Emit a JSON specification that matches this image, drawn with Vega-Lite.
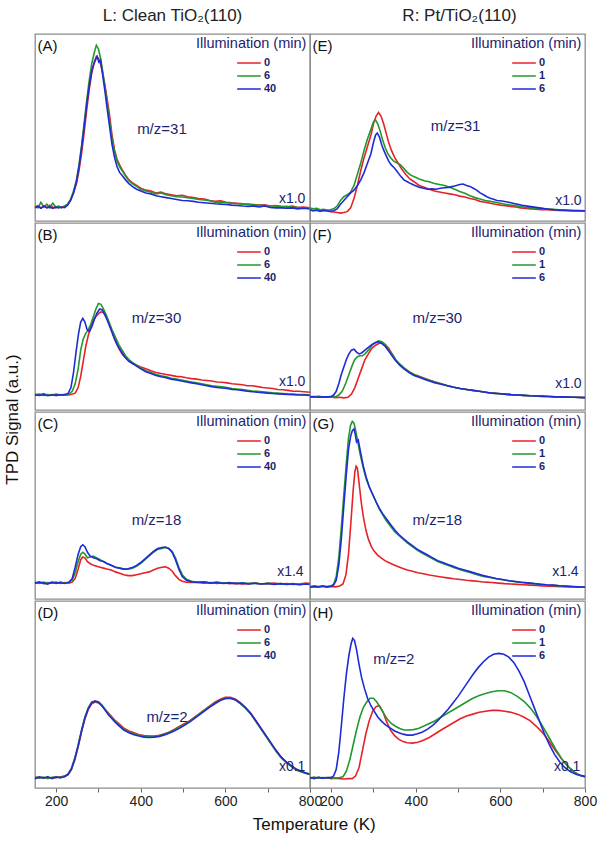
{
"$schema": "https://vega.github.io/schema/vega-lite/v6.json",
"background": "white",
"padding": {"left": 4, "top": 6, "right": 10, "bottom": 2},
"title": {"text": "TPD Signal (a.u.)", "orient": "left", "anchor": "middle", "fontSize": 17, "fontWeight": "normal", "color": "#111", "offset": 9},
"config": {
 "font": "Liberation Sans",
 "view": {"stroke": "#8c8c8c", "strokeWidth": 1.3},
 "line": {"strokeWidth": 1.6},
 "text": {"baseline": "middle"},
 "legend": {"orient": "top-right", "offset": 3, "padding": 0, "titleFontSize": 14.5, "titleFontWeight": "normal", "titleColor": "#1c2470", "labelFontSize": 11, "labelColor": "#1c2470", "labelFontWeight": "bold", "symbolType": "stroke", "symbolSize": 560, "symbolStrokeWidth": 2, "symbolOffset": 40, "labelOffset": 2, "rowPadding": 0, "clipHeight": 13, "titlePadding": 5, "titleLimit": 220},
 "axis": {"domain": false, "grid": false, "tickColor": "#666", "tickSize": 4, "labelFontSize": 14, "labelColor": "#222", "labelFlush": false, "labelOverlap": false, "labelPadding": 2}
},
"datasets": {
"A0": [{"t":150,"v":0.075},{"t":157,"v":0.082},{"t":164,"v":0.07},{"t":171,"v":0.08},{"t":178,"v":0.072},{"t":185,"v":0.084},{"t":192,"v":0.074},{"t":199,"v":0.07},{"t":206,"v":0.078},{"t":213,"v":0.072},{"t":220,"v":0.08},{"t":227,"v":0.088},{"t":234,"v":0.11},{"t":241,"v":0.15},{"t":248,"v":0.2},{"t":254,"v":0.27},{"t":260,"v":0.36},{"t":266,"v":0.47},{"t":272,"v":0.59},{"t":278,"v":0.7},{"t":284,"v":0.79},{"t":290,"v":0.85},{"t":295,"v":0.88},{"t":300,"v":0.87},{"t":305,"v":0.84},{"t":310,"v":0.79},{"t":315,"v":0.73},{"t":320,"v":0.66},{"t":326,"v":0.57},{"t":332,"v":0.46},{"t":338,"v":0.38},{"t":344,"v":0.33},{"t":350,"v":0.3},{"t":357,"v":0.27},{"t":364,"v":0.245},{"t":372,"v":0.22},{"t":380,"v":0.205},{"t":390,"v":0.19},{"t":400,"v":0.175},{"t":412,"v":0.165},{"t":424,"v":0.16},{"t":436,"v":0.15},{"t":448,"v":0.155},{"t":460,"v":0.145},{"t":472,"v":0.14},{"t":485,"v":0.135},{"t":498,"v":0.138},{"t":511,"v":0.13},{"t":524,"v":0.125},{"t":537,"v":0.12},{"t":550,"v":0.118},{"t":563,"v":0.11},{"t":576,"v":0.105},{"t":589,"v":0.108},{"t":602,"v":0.1},{"t":615,"v":0.097},{"t":628,"v":0.095},{"t":641,"v":0.092},{"t":654,"v":0.09},{"t":667,"v":0.088},{"t":680,"v":0.085},{"t":693,"v":0.087},{"t":706,"v":0.08},{"t":719,"v":0.082},{"t":732,"v":0.078},{"t":745,"v":0.075},{"t":758,"v":0.08},{"t":771,"v":0.072},{"t":784,"v":0.075},{"t":800,"v":0.07}],
"A6": [{"t":150,"v":0.08},{"t":157,"v":0.07},{"t":164,"v":0.1},{"t":171,"v":0.075},{"t":178,"v":0.09},{"t":185,"v":0.07},{"t":192,"v":0.095},{"t":199,"v":0.075},{"t":206,"v":0.08},{"t":213,"v":0.07},{"t":220,"v":0.078},{"t":227,"v":0.09},{"t":234,"v":0.115},{"t":241,"v":0.16},{"t":248,"v":0.22},{"t":254,"v":0.3},{"t":260,"v":0.4},{"t":266,"v":0.52},{"t":272,"v":0.64},{"t":278,"v":0.75},{"t":284,"v":0.84},{"t":290,"v":0.9},{"t":295,"v":0.94},{"t":300,"v":0.92},{"t":305,"v":0.87},{"t":310,"v":0.8},{"t":315,"v":0.72},{"t":320,"v":0.64},{"t":326,"v":0.54},{"t":332,"v":0.44},{"t":338,"v":0.37},{"t":344,"v":0.32},{"t":350,"v":0.29},{"t":357,"v":0.265},{"t":364,"v":0.24},{"t":372,"v":0.215},{"t":380,"v":0.2},{"t":390,"v":0.185},{"t":400,"v":0.17},{"t":412,"v":0.16},{"t":424,"v":0.155},{"t":436,"v":0.145},{"t":448,"v":0.15},{"t":460,"v":0.14},{"t":472,"v":0.135},{"t":485,"v":0.13},{"t":498,"v":0.128},{"t":511,"v":0.125},{"t":524,"v":0.12},{"t":537,"v":0.115},{"t":550,"v":0.112},{"t":563,"v":0.108},{"t":576,"v":0.1},{"t":589,"v":0.102},{"t":602,"v":0.098},{"t":615,"v":0.095},{"t":628,"v":0.092},{"t":641,"v":0.09},{"t":654,"v":0.088},{"t":667,"v":0.085},{"t":680,"v":0.085},{"t":693,"v":0.082},{"t":706,"v":0.08},{"t":719,"v":0.08},{"t":732,"v":0.076},{"t":745,"v":0.078},{"t":758,"v":0.074},{"t":771,"v":0.072},{"t":784,"v":0.07},{"t":800,"v":0.068}],
"A40": [{"t":150,"v":0.07},{"t":157,"v":0.078},{"t":164,"v":0.068},{"t":171,"v":0.08},{"t":178,"v":0.07},{"t":185,"v":0.075},{"t":192,"v":0.068},{"t":199,"v":0.075},{"t":206,"v":0.07},{"t":213,"v":0.075},{"t":220,"v":0.072},{"t":227,"v":0.085},{"t":234,"v":0.11},{"t":241,"v":0.15},{"t":248,"v":0.21},{"t":254,"v":0.29},{"t":260,"v":0.39},{"t":266,"v":0.5},{"t":272,"v":0.62},{"t":278,"v":0.72},{"t":284,"v":0.8},{"t":289,"v":0.84},{"t":293,"v":0.86},{"t":297,"v":0.88},{"t":301,"v":0.85},{"t":305,"v":0.86},{"t":310,"v":0.78},{"t":315,"v":0.7},{"t":320,"v":0.61},{"t":326,"v":0.51},{"t":332,"v":0.41},{"t":338,"v":0.34},{"t":344,"v":0.29},{"t":350,"v":0.26},{"t":357,"v":0.24},{"t":364,"v":0.22},{"t":372,"v":0.2},{"t":380,"v":0.185},{"t":390,"v":0.17},{"t":400,"v":0.16},{"t":412,"v":0.15},{"t":424,"v":0.145},{"t":436,"v":0.135},{"t":448,"v":0.13},{"t":460,"v":0.125},{"t":472,"v":0.12},{"t":485,"v":0.115},{"t":498,"v":0.11},{"t":511,"v":0.108},{"t":524,"v":0.105},{"t":537,"v":0.1},{"t":550,"v":0.098},{"t":563,"v":0.095},{"t":576,"v":0.092},{"t":589,"v":0.09},{"t":602,"v":0.088},{"t":615,"v":0.085},{"t":628,"v":0.083},{"t":641,"v":0.08},{"t":654,"v":0.078},{"t":667,"v":0.08},{"t":680,"v":0.075},{"t":693,"v":0.08},{"t":706,"v":0.072},{"t":719,"v":0.07},{"t":732,"v":0.07},{"t":745,"v":0.068},{"t":758,"v":0.07},{"t":771,"v":0.065},{"t":784,"v":0.068},{"t":800,"v":0.065}],
"E0": [{"t":150,"v":0.058},{"t":158,"v":0.055},{"t":166,"v":0.06},{"t":174,"v":0.052},{"t":182,"v":0.058},{"t":190,"v":0.055},{"t":198,"v":0.05},{"t":206,"v":0.048},{"t":214,"v":0.045},{"t":222,"v":0.042},{"t":230,"v":0.045},{"t":238,"v":0.05},{"t":246,"v":0.07},{"t":254,"v":0.12},{"t":262,"v":0.19},{"t":270,"v":0.27},{"t":278,"v":0.34},{"t":286,"v":0.4},{"t":294,"v":0.46},{"t":300,"v":0.52},{"t":306,"v":0.56},{"t":312,"v":0.58},{"t":318,"v":0.56},{"t":324,"v":0.52},{"t":330,"v":0.47},{"t":336,"v":0.42},{"t":342,"v":0.38},{"t":350,"v":0.34},{"t":358,"v":0.31},{"t":366,"v":0.28},{"t":376,"v":0.25},{"t":386,"v":0.225},{"t":396,"v":0.21},{"t":408,"v":0.19},{"t":420,"v":0.18},{"t":432,"v":0.17},{"t":444,"v":0.16},{"t":456,"v":0.155},{"t":468,"v":0.15},{"t":480,"v":0.145},{"t":492,"v":0.14},{"t":504,"v":0.133},{"t":516,"v":0.128},{"t":528,"v":0.12},{"t":540,"v":0.115},{"t":552,"v":0.105},{"t":564,"v":0.1},{"t":576,"v":0.095},{"t":588,"v":0.09},{"t":600,"v":0.085},{"t":612,"v":0.082},{"t":624,"v":0.078},{"t":636,"v":0.075},{"t":648,"v":0.07},{"t":660,"v":0.067},{"t":672,"v":0.065},{"t":684,"v":0.063},{"t":696,"v":0.06},{"t":710,"v":0.06},{"t":725,"v":0.058},{"t":740,"v":0.057},{"t":755,"v":0.056},{"t":770,"v":0.055},{"t":785,"v":0.055},{"t":800,"v":0.054}],
"E1": [{"t":150,"v":0.07},{"t":158,"v":0.065},{"t":166,"v":0.068},{"t":174,"v":0.06},{"t":182,"v":0.062},{"t":190,"v":0.058},{"t":198,"v":0.06},{"t":206,"v":0.065},{"t":214,"v":0.08},{"t":222,"v":0.11},{"t":230,"v":0.13},{"t":238,"v":0.14},{"t":246,"v":0.155},{"t":254,"v":0.19},{"t":262,"v":0.25},{"t":270,"v":0.31},{"t":278,"v":0.38},{"t":286,"v":0.44},{"t":294,"v":0.49},{"t":300,"v":0.53},{"t":305,"v":0.54},{"t":310,"v":0.52},{"t":316,"v":0.48},{"t":322,"v":0.43},{"t":328,"v":0.39},{"t":334,"v":0.36},{"t":340,"v":0.34},{"t":348,"v":0.32},{"t":356,"v":0.31},{"t":364,"v":0.3},{"t":372,"v":0.28},{"t":380,"v":0.26},{"t":388,"v":0.245},{"t":398,"v":0.235},{"t":408,"v":0.225},{"t":420,"v":0.215},{"t":432,"v":0.21},{"t":444,"v":0.2},{"t":456,"v":0.195},{"t":468,"v":0.19},{"t":480,"v":0.18},{"t":492,"v":0.17},{"t":504,"v":0.158},{"t":516,"v":0.148},{"t":528,"v":0.135},{"t":540,"v":0.125},{"t":552,"v":0.118},{"t":564,"v":0.11},{"t":576,"v":0.105},{"t":588,"v":0.1},{"t":600,"v":0.095},{"t":612,"v":0.09},{"t":624,"v":0.086},{"t":636,"v":0.082},{"t":648,"v":0.078},{"t":660,"v":0.072},{"t":672,"v":0.07},{"t":684,"v":0.068},{"t":696,"v":0.066},{"t":710,"v":0.064},{"t":725,"v":0.062},{"t":740,"v":0.06},{"t":755,"v":0.058},{"t":770,"v":0.057},{"t":785,"v":0.055},{"t":800,"v":0.054}],
"E6": [{"t":150,"v":0.06},{"t":158,"v":0.055},{"t":166,"v":0.058},{"t":174,"v":0.052},{"t":182,"v":0.056},{"t":190,"v":0.055},{"t":198,"v":0.052},{"t":206,"v":0.055},{"t":214,"v":0.065},{"t":222,"v":0.09},{"t":230,"v":0.11},{"t":238,"v":0.13},{"t":246,"v":0.15},{"t":254,"v":0.165},{"t":262,"v":0.19},{"t":270,"v":0.22},{"t":278,"v":0.26},{"t":286,"v":0.31},{"t":294,"v":0.36},{"t":300,"v":0.42},{"t":305,"v":0.46},{"t":309,"v":0.47},{"t":314,"v":0.45},{"t":319,"v":0.41},{"t":324,"v":0.38},{"t":330,"v":0.35},{"t":336,"v":0.32},{"t":342,"v":0.3},{"t":349,"v":0.285},{"t":356,"v":0.265},{"t":364,"v":0.24},{"t":372,"v":0.22},{"t":380,"v":0.21},{"t":388,"v":0.2},{"t":398,"v":0.19},{"t":408,"v":0.18},{"t":418,"v":0.175},{"t":428,"v":0.17},{"t":438,"v":0.172},{"t":448,"v":0.17},{"t":458,"v":0.175},{"t":468,"v":0.178},{"t":478,"v":0.18},{"t":488,"v":0.185},{"t":496,"v":0.19},{"t":504,"v":0.195},{"t":512,"v":0.198},{"t":520,"v":0.19},{"t":528,"v":0.185},{"t":536,"v":0.175},{"t":544,"v":0.165},{"t":552,"v":0.15},{"t":560,"v":0.14},{"t":568,"v":0.13},{"t":576,"v":0.122},{"t":584,"v":0.116},{"t":592,"v":0.11},{"t":600,"v":0.108},{"t":610,"v":0.104},{"t":620,"v":0.1},{"t":632,"v":0.094},{"t":644,"v":0.088},{"t":656,"v":0.082},{"t":668,"v":0.078},{"t":680,"v":0.074},{"t":692,"v":0.07},{"t":704,"v":0.066},{"t":716,"v":0.063},{"t":728,"v":0.06},{"t":740,"v":0.058},{"t":755,"v":0.057},{"t":770,"v":0.055},{"t":785,"v":0.056},{"t":800,"v":0.055}],
"B0": [{"t":150,"v":0.08},{"t":160,"v":0.085},{"t":170,"v":0.078},{"t":180,"v":0.082},{"t":190,"v":0.08},{"t":200,"v":0.085},{"t":210,"v":0.08},{"t":220,"v":0.082},{"t":230,"v":0.08},{"t":238,"v":0.085},{"t":245,"v":0.09},{"t":252,"v":0.12},{"t":258,"v":0.18},{"t":264,"v":0.26},{"t":270,"v":0.34},{"t":276,"v":0.4},{"t":282,"v":0.45},{"t":288,"v":0.48},{"t":294,"v":0.5},{"t":300,"v":0.515},{"t":306,"v":0.525},{"t":312,"v":0.52},{"t":318,"v":0.5},{"t":325,"v":0.46},{"t":332,"v":0.42},{"t":340,"v":0.37},{"t":348,"v":0.33},{"t":356,"v":0.3},{"t":364,"v":0.28},{"t":372,"v":0.26},{"t":380,"v":0.25},{"t":390,"v":0.24},{"t":400,"v":0.23},{"t":412,"v":0.22},{"t":424,"v":0.21},{"t":436,"v":0.2},{"t":448,"v":0.195},{"t":460,"v":0.19},{"t":472,"v":0.185},{"t":484,"v":0.18},{"t":496,"v":0.178},{"t":508,"v":0.172},{"t":520,"v":0.168},{"t":532,"v":0.165},{"t":544,"v":0.16},{"t":556,"v":0.158},{"t":568,"v":0.155},{"t":580,"v":0.15},{"t":592,"v":0.148},{"t":604,"v":0.145},{"t":616,"v":0.14},{"t":628,"v":0.138},{"t":640,"v":0.135},{"t":652,"v":0.13},{"t":664,"v":0.13},{"t":676,"v":0.125},{"t":688,"v":0.12},{"t":700,"v":0.118},{"t":712,"v":0.115},{"t":724,"v":0.11},{"t":736,"v":0.108},{"t":748,"v":0.105},{"t":760,"v":0.1},{"t":772,"v":0.1},{"t":786,"v":0.098},{"t":800,"v":0.095}],
"B6": [{"t":150,"v":0.085},{"t":160,"v":0.08},{"t":170,"v":0.088},{"t":180,"v":0.08},{"t":190,"v":0.082},{"t":200,"v":0.078},{"t":210,"v":0.082},{"t":220,"v":0.08},{"t":230,"v":0.085},{"t":238,"v":0.1},{"t":245,"v":0.14},{"t":252,"v":0.22},{"t":258,"v":0.32},{"t":264,"v":0.38},{"t":270,"v":0.41},{"t":276,"v":0.43},{"t":282,"v":0.46},{"t":288,"v":0.5},{"t":294,"v":0.54},{"t":300,"v":0.57},{"t":306,"v":0.565},{"t":312,"v":0.54},{"t":318,"v":0.51},{"t":325,"v":0.47},{"t":332,"v":0.43},{"t":340,"v":0.39},{"t":348,"v":0.35},{"t":356,"v":0.32},{"t":364,"v":0.29},{"t":372,"v":0.27},{"t":380,"v":0.255},{"t":390,"v":0.24},{"t":400,"v":0.225},{"t":412,"v":0.21},{"t":424,"v":0.2},{"t":436,"v":0.19},{"t":448,"v":0.183},{"t":460,"v":0.177},{"t":472,"v":0.17},{"t":484,"v":0.165},{"t":496,"v":0.16},{"t":508,"v":0.155},{"t":520,"v":0.15},{"t":532,"v":0.145},{"t":544,"v":0.14},{"t":556,"v":0.135},{"t":568,"v":0.13},{"t":580,"v":0.127},{"t":592,"v":0.124},{"t":604,"v":0.12},{"t":616,"v":0.115},{"t":628,"v":0.112},{"t":640,"v":0.11},{"t":652,"v":0.105},{"t":664,"v":0.102},{"t":676,"v":0.1},{"t":688,"v":0.098},{"t":700,"v":0.095},{"t":712,"v":0.092},{"t":724,"v":0.09},{"t":736,"v":0.088},{"t":748,"v":0.086},{"t":760,"v":0.085},{"t":772,"v":0.083},{"t":786,"v":0.082},{"t":800,"v":0.08}],
"B40": [{"t":150,"v":0.08},{"t":160,"v":0.078},{"t":170,"v":0.083},{"t":180,"v":0.076},{"t":190,"v":0.08},{"t":200,"v":0.078},{"t":210,"v":0.08},{"t":220,"v":0.082},{"t":228,"v":0.088},{"t":235,"v":0.12},{"t":241,"v":0.2},{"t":247,"v":0.31},{"t":253,"v":0.41},{"t":258,"v":0.47},{"t":263,"v":0.49},{"t":268,"v":0.47},{"t":273,"v":0.43},{"t":279,"v":0.42},{"t":285,"v":0.45},{"t":291,"v":0.49},{"t":297,"v":0.52},{"t":303,"v":0.54},{"t":309,"v":0.535},{"t":315,"v":0.51},{"t":321,"v":0.48},{"t":328,"v":0.44},{"t":336,"v":0.39},{"t":344,"v":0.35},{"t":352,"v":0.32},{"t":360,"v":0.29},{"t":370,"v":0.265},{"t":380,"v":0.25},{"t":390,"v":0.235},{"t":400,"v":0.22},{"t":412,"v":0.205},{"t":424,"v":0.195},{"t":436,"v":0.185},{"t":448,"v":0.178},{"t":460,"v":0.172},{"t":472,"v":0.165},{"t":484,"v":0.16},{"t":496,"v":0.155},{"t":508,"v":0.15},{"t":520,"v":0.145},{"t":532,"v":0.14},{"t":544,"v":0.135},{"t":556,"v":0.13},{"t":568,"v":0.125},{"t":580,"v":0.12},{"t":592,"v":0.118},{"t":604,"v":0.115},{"t":616,"v":0.11},{"t":628,"v":0.108},{"t":640,"v":0.105},{"t":652,"v":0.1},{"t":664,"v":0.098},{"t":676,"v":0.095},{"t":688,"v":0.093},{"t":700,"v":0.09},{"t":712,"v":0.088},{"t":724,"v":0.086},{"t":736,"v":0.085},{"t":748,"v":0.083},{"t":760,"v":0.082},{"t":772,"v":0.08},{"t":786,"v":0.08},{"t":800,"v":0.078}],
"F0": [{"t":150,"v":0.07},{"t":160,"v":0.068},{"t":170,"v":0.072},{"t":180,"v":0.07},{"t":190,"v":0.068},{"t":200,"v":0.07},{"t":210,"v":0.066},{"t":220,"v":0.068},{"t":230,"v":0.065},{"t":240,"v":0.068},{"t":248,"v":0.085},{"t":256,"v":0.12},{"t":264,"v":0.17},{"t":272,"v":0.22},{"t":280,"v":0.27},{"t":288,"v":0.3},{"t":296,"v":0.33},{"t":304,"v":0.345},{"t":312,"v":0.355},{"t":320,"v":0.36},{"t":328,"v":0.35},{"t":336,"v":0.33},{"t":344,"v":0.3},{"t":352,"v":0.27},{"t":362,"v":0.245},{"t":372,"v":0.225},{"t":384,"v":0.205},{"t":396,"v":0.19},{"t":408,"v":0.18},{"t":420,"v":0.17},{"t":432,"v":0.16},{"t":446,"v":0.15},{"t":460,"v":0.14},{"t":475,"v":0.13},{"t":490,"v":0.122},{"t":505,"v":0.115},{"t":520,"v":0.11},{"t":535,"v":0.105},{"t":550,"v":0.1},{"t":565,"v":0.095},{"t":580,"v":0.09},{"t":595,"v":0.088},{"t":610,"v":0.085},{"t":625,"v":0.082},{"t":640,"v":0.08},{"t":655,"v":0.078},{"t":670,"v":0.076},{"t":685,"v":0.075},{"t":700,"v":0.073},{"t":715,"v":0.072},{"t":730,"v":0.07},{"t":745,"v":0.07},{"t":760,"v":0.068},{"t":775,"v":0.068},{"t":800,"v":0.066}],
"F1": [{"t":150,"v":0.072},{"t":160,"v":0.07},{"t":170,"v":0.073},{"t":180,"v":0.069},{"t":190,"v":0.07},{"t":200,"v":0.072},{"t":210,"v":0.07},{"t":218,"v":0.08},{"t":226,"v":0.1},{"t":234,"v":0.14},{"t":242,"v":0.19},{"t":250,"v":0.24},{"t":256,"v":0.27},{"t":262,"v":0.285},{"t":268,"v":0.29},{"t":274,"v":0.29},{"t":280,"v":0.3},{"t":288,"v":0.32},{"t":296,"v":0.345},{"t":304,"v":0.36},{"t":312,"v":0.37},{"t":320,"v":0.365},{"t":328,"v":0.35},{"t":336,"v":0.32},{"t":344,"v":0.3},{"t":352,"v":0.27},{"t":362,"v":0.245},{"t":372,"v":0.225},{"t":384,"v":0.205},{"t":396,"v":0.19},{"t":408,"v":0.178},{"t":420,"v":0.168},{"t":432,"v":0.158},{"t":446,"v":0.148},{"t":460,"v":0.14},{"t":475,"v":0.13},{"t":490,"v":0.122},{"t":505,"v":0.115},{"t":520,"v":0.11},{"t":535,"v":0.104},{"t":550,"v":0.1},{"t":565,"v":0.095},{"t":580,"v":0.09},{"t":595,"v":0.087},{"t":610,"v":0.085},{"t":625,"v":0.082},{"t":640,"v":0.08},{"t":655,"v":0.078},{"t":670,"v":0.076},{"t":685,"v":0.074},{"t":700,"v":0.073},{"t":715,"v":0.072},{"t":730,"v":0.07},{"t":745,"v":0.07},{"t":760,"v":0.068},{"t":775,"v":0.068},{"t":800,"v":0.066}],
"F6": [{"t":150,"v":0.07},{"t":160,"v":0.072},{"t":170,"v":0.068},{"t":180,"v":0.07},{"t":190,"v":0.07},{"t":200,"v":0.072},{"t":206,"v":0.08},{"t":212,"v":0.1},{"t":218,"v":0.14},{"t":224,"v":0.19},{"t":230,"v":0.23},{"t":236,"v":0.27},{"t":242,"v":0.3},{"t":248,"v":0.32},{"t":254,"v":0.325},{"t":260,"v":0.31},{"t":266,"v":0.3},{"t":272,"v":0.305},{"t":280,"v":0.32},{"t":288,"v":0.335},{"t":296,"v":0.35},{"t":304,"v":0.36},{"t":312,"v":0.365},{"t":320,"v":0.355},{"t":328,"v":0.34},{"t":336,"v":0.315},{"t":344,"v":0.29},{"t":352,"v":0.265},{"t":362,"v":0.24},{"t":372,"v":0.22},{"t":384,"v":0.2},{"t":396,"v":0.185},{"t":408,"v":0.175},{"t":420,"v":0.165},{"t":432,"v":0.155},{"t":446,"v":0.145},{"t":460,"v":0.138},{"t":475,"v":0.13},{"t":490,"v":0.122},{"t":505,"v":0.115},{"t":520,"v":0.11},{"t":535,"v":0.105},{"t":550,"v":0.1},{"t":565,"v":0.095},{"t":580,"v":0.09},{"t":595,"v":0.088},{"t":610,"v":0.085},{"t":625,"v":0.082},{"t":640,"v":0.08},{"t":655,"v":0.078},{"t":670,"v":0.076},{"t":685,"v":0.075},{"t":700,"v":0.074},{"t":715,"v":0.072},{"t":730,"v":0.07},{"t":745,"v":0.07},{"t":760,"v":0.069},{"t":775,"v":0.068},{"t":800,"v":0.066}],
"C0": [{"t":150,"v":0.085},{"t":160,"v":0.09},{"t":170,"v":0.082},{"t":180,"v":0.088},{"t":190,"v":0.085},{"t":200,"v":0.09},{"t":210,"v":0.083},{"t":220,"v":0.088},{"t":230,"v":0.085},{"t":238,"v":0.09},{"t":245,"v":0.11},{"t":252,"v":0.16},{"t":258,"v":0.21},{"t":263,"v":0.225},{"t":268,"v":0.22},{"t":274,"v":0.2},{"t":280,"v":0.19},{"t":288,"v":0.18},{"t":296,"v":0.175},{"t":304,"v":0.17},{"t":312,"v":0.165},{"t":320,"v":0.16},{"t":330,"v":0.155},{"t":340,"v":0.145},{"t":350,"v":0.138},{"t":360,"v":0.13},{"t":370,"v":0.125},{"t":380,"v":0.125},{"t":390,"v":0.13},{"t":400,"v":0.135},{"t":410,"v":0.14},{"t":420,"v":0.145},{"t":430,"v":0.155},{"t":440,"v":0.165},{"t":450,"v":0.17},{"t":458,"v":0.172},{"t":466,"v":0.165},{"t":474,"v":0.15},{"t":482,"v":0.125},{"t":490,"v":0.105},{"t":498,"v":0.095},{"t":508,"v":0.09},{"t":520,"v":0.088},{"t":535,"v":0.09},{"t":550,"v":0.085},{"t":565,"v":0.088},{"t":580,"v":0.083},{"t":595,"v":0.087},{"t":610,"v":0.082},{"t":625,"v":0.085},{"t":640,"v":0.08},{"t":655,"v":0.083},{"t":670,"v":0.085},{"t":685,"v":0.08},{"t":700,"v":0.082},{"t":715,"v":0.085},{"t":730,"v":0.08},{"t":745,"v":0.083},{"t":760,"v":0.078},{"t":775,"v":0.08},{"t":790,"v":0.085},{"t":800,"v":0.082}],
"C6": [{"t":150,"v":0.09},{"t":160,"v":0.083},{"t":170,"v":0.09},{"t":180,"v":0.085},{"t":190,"v":0.088},{"t":200,"v":0.083},{"t":210,"v":0.09},{"t":220,"v":0.085},{"t":230,"v":0.09},{"t":238,"v":0.1},{"t":245,"v":0.14},{"t":252,"v":0.2},{"t":258,"v":0.24},{"t":263,"v":0.25},{"t":268,"v":0.24},{"t":274,"v":0.22},{"t":280,"v":0.225},{"t":288,"v":0.23},{"t":296,"v":0.22},{"t":304,"v":0.21},{"t":312,"v":0.2},{"t":320,"v":0.19},{"t":330,"v":0.18},{"t":340,"v":0.17},{"t":350,"v":0.165},{"t":360,"v":0.16},{"t":370,"v":0.16},{"t":380,"v":0.165},{"t":390,"v":0.175},{"t":400,"v":0.19},{"t":410,"v":0.21},{"t":420,"v":0.23},{"t":430,"v":0.25},{"t":440,"v":0.265},{"t":450,"v":0.27},{"t":458,"v":0.275},{"t":466,"v":0.27},{"t":474,"v":0.255},{"t":482,"v":0.22},{"t":490,"v":0.17},{"t":498,"v":0.13},{"t":508,"v":0.105},{"t":520,"v":0.095},{"t":535,"v":0.09},{"t":550,"v":0.092},{"t":565,"v":0.086},{"t":580,"v":0.09},{"t":595,"v":0.085},{"t":610,"v":0.088},{"t":625,"v":0.083},{"t":640,"v":0.087},{"t":655,"v":0.082},{"t":670,"v":0.085},{"t":685,"v":0.08},{"t":700,"v":0.085},{"t":715,"v":0.08},{"t":730,"v":0.083},{"t":745,"v":0.08},{"t":760,"v":0.082},{"t":775,"v":0.078},{"t":790,"v":0.08},{"t":800,"v":0.082}],
"C40": [{"t":150,"v":0.085},{"t":160,"v":0.09},{"t":170,"v":0.085},{"t":180,"v":0.08},{"t":190,"v":0.09},{"t":200,"v":0.085},{"t":210,"v":0.088},{"t":220,"v":0.083},{"t":230,"v":0.09},{"t":238,"v":0.11},{"t":245,"v":0.17},{"t":252,"v":0.24},{"t":258,"v":0.28},{"t":263,"v":0.29},{"t":268,"v":0.28},{"t":274,"v":0.25},{"t":280,"v":0.23},{"t":288,"v":0.22},{"t":296,"v":0.215},{"t":304,"v":0.205},{"t":312,"v":0.2},{"t":320,"v":0.19},{"t":330,"v":0.18},{"t":340,"v":0.17},{"t":350,"v":0.165},{"t":360,"v":0.16},{"t":370,"v":0.162},{"t":380,"v":0.168},{"t":390,"v":0.18},{"t":400,"v":0.195},{"t":410,"v":0.215},{"t":420,"v":0.235},{"t":430,"v":0.255},{"t":440,"v":0.27},{"t":450,"v":0.275},{"t":458,"v":0.278},{"t":466,"v":0.27},{"t":474,"v":0.25},{"t":482,"v":0.21},{"t":490,"v":0.16},{"t":498,"v":0.12},{"t":508,"v":0.1},{"t":520,"v":0.092},{"t":535,"v":0.088},{"t":550,"v":0.09},{"t":565,"v":0.085},{"t":580,"v":0.088},{"t":595,"v":0.083},{"t":610,"v":0.086},{"t":625,"v":0.082},{"t":640,"v":0.085},{"t":655,"v":0.08},{"t":670,"v":0.084},{"t":685,"v":0.08},{"t":700,"v":0.083},{"t":715,"v":0.078},{"t":730,"v":0.082},{"t":745,"v":0.078},{"t":760,"v":0.08},{"t":775,"v":0.076},{"t":790,"v":0.08},{"t":800,"v":0.078}],
"G0": [{"t":150,"v":0.065},{"t":160,"v":0.07},{"t":170,"v":0.065},{"t":180,"v":0.068},{"t":190,"v":0.063},{"t":200,"v":0.067},{"t":210,"v":0.065},{"t":220,"v":0.07},{"t":228,"v":0.08},{"t":235,"v":0.13},{"t":241,"v":0.24},{"t":247,"v":0.42},{"t":252,"v":0.58},{"t":256,"v":0.68},{"t":259,"v":0.71},{"t":262,"v":0.7},{"t":266,"v":0.62},{"t":271,"v":0.52},{"t":276,"v":0.44},{"t":282,"v":0.37},{"t":288,"v":0.32},{"t":295,"v":0.28},{"t":302,"v":0.255},{"t":310,"v":0.235},{"t":318,"v":0.22},{"t":327,"v":0.205},{"t":336,"v":0.195},{"t":346,"v":0.185},{"t":356,"v":0.175},{"t":368,"v":0.165},{"t":380,"v":0.155},{"t":392,"v":0.148},{"t":405,"v":0.14},{"t":418,"v":0.135},{"t":432,"v":0.128},{"t":446,"v":0.123},{"t":460,"v":0.118},{"t":475,"v":0.113},{"t":490,"v":0.108},{"t":505,"v":0.104},{"t":520,"v":0.1},{"t":535,"v":0.097},{"t":550,"v":0.094},{"t":565,"v":0.09},{"t":580,"v":0.088},{"t":595,"v":0.085},{"t":610,"v":0.082},{"t":625,"v":0.08},{"t":640,"v":0.078},{"t":655,"v":0.076},{"t":670,"v":0.074},{"t":685,"v":0.072},{"t":700,"v":0.07},{"t":715,"v":0.068},{"t":730,"v":0.067},{"t":745,"v":0.066},{"t":760,"v":0.065},{"t":775,"v":0.064},{"t":800,"v":0.063}],
"G1": [{"t":150,"v":0.065},{"t":160,"v":0.068},{"t":170,"v":0.066},{"t":180,"v":0.07},{"t":190,"v":0.067},{"t":200,"v":0.07},{"t":206,"v":0.08},{"t":212,"v":0.12},{"t":218,"v":0.22},{"t":224,"v":0.38},{"t":230,"v":0.56},{"t":236,"v":0.73},{"t":241,"v":0.86},{"t":246,"v":0.93},{"t":250,"v":0.95},{"t":254,"v":0.94},{"t":258,"v":0.9},{"t":263,"v":0.84},{"t":269,"v":0.77},{"t":276,"v":0.7},{"t":283,"v":0.64},{"t":290,"v":0.6},{"t":298,"v":0.56},{"t":306,"v":0.52},{"t":314,"v":0.48},{"t":322,"v":0.45},{"t":330,"v":0.42},{"t":340,"v":0.39},{"t":350,"v":0.36},{"t":360,"v":0.34},{"t":370,"v":0.32},{"t":380,"v":0.3},{"t":392,"v":0.28},{"t":404,"v":0.26},{"t":416,"v":0.245},{"t":428,"v":0.23},{"t":440,"v":0.215},{"t":452,"v":0.2},{"t":464,"v":0.19},{"t":476,"v":0.18},{"t":488,"v":0.17},{"t":500,"v":0.16},{"t":515,"v":0.15},{"t":530,"v":0.14},{"t":545,"v":0.13},{"t":560,"v":0.12},{"t":575,"v":0.115},{"t":590,"v":0.108},{"t":605,"v":0.103},{"t":620,"v":0.098},{"t":635,"v":0.093},{"t":650,"v":0.088},{"t":665,"v":0.085},{"t":680,"v":0.082},{"t":695,"v":0.078},{"t":710,"v":0.075},{"t":725,"v":0.073},{"t":740,"v":0.07},{"t":755,"v":0.068},{"t":770,"v":0.066},{"t":785,"v":0.065},{"t":800,"v":0.063}],
"G6": [{"t":150,"v":0.063},{"t":160,"v":0.066},{"t":170,"v":0.064},{"t":180,"v":0.068},{"t":190,"v":0.065},{"t":200,"v":0.068},{"t":206,"v":0.075},{"t":212,"v":0.1},{"t":218,"v":0.18},{"t":224,"v":0.32},{"t":230,"v":0.5},{"t":236,"v":0.67},{"t":241,"v":0.8},{"t":246,"v":0.87},{"t":250,"v":0.9},{"t":254,"v":0.91},{"t":257,"v":0.88},{"t":260,"v":0.84},{"t":264,"v":0.85},{"t":269,"v":0.79},{"t":276,"v":0.71},{"t":283,"v":0.65},{"t":290,"v":0.6},{"t":298,"v":0.56},{"t":306,"v":0.52},{"t":314,"v":0.485},{"t":322,"v":0.455},{"t":330,"v":0.43},{"t":340,"v":0.4},{"t":350,"v":0.37},{"t":360,"v":0.345},{"t":370,"v":0.325},{"t":380,"v":0.305},{"t":392,"v":0.285},{"t":404,"v":0.265},{"t":416,"v":0.25},{"t":428,"v":0.235},{"t":440,"v":0.22},{"t":452,"v":0.205},{"t":464,"v":0.195},{"t":476,"v":0.185},{"t":488,"v":0.175},{"t":500,"v":0.165},{"t":515,"v":0.155},{"t":530,"v":0.145},{"t":545,"v":0.135},{"t":560,"v":0.125},{"t":575,"v":0.118},{"t":590,"v":0.11},{"t":605,"v":0.104},{"t":620,"v":0.098},{"t":635,"v":0.094},{"t":650,"v":0.09},{"t":665,"v":0.086},{"t":680,"v":0.082},{"t":695,"v":0.079},{"t":710,"v":0.076},{"t":725,"v":0.074},{"t":740,"v":0.071},{"t":755,"v":0.069},{"t":770,"v":0.067},{"t":785,"v":0.065},{"t":800,"v":0.064}],
"D0": [{"t":150,"v":0.055},{"t":160,"v":0.06},{"t":170,"v":0.052},{"t":180,"v":0.058},{"t":190,"v":0.05},{"t":200,"v":0.056},{"t":210,"v":0.06},{"t":220,"v":0.062},{"t":228,"v":0.07},{"t":236,"v":0.1},{"t":244,"v":0.15},{"t":252,"v":0.22},{"t":260,"v":0.3},{"t":268,"v":0.37},{"t":276,"v":0.42},{"t":284,"v":0.45},{"t":292,"v":0.46},{"t":300,"v":0.455},{"t":308,"v":0.44},{"t":316,"v":0.42},{"t":324,"v":0.4},{"t":332,"v":0.38},{"t":340,"v":0.36},{"t":350,"v":0.34},{"t":360,"v":0.32},{"t":372,"v":0.305},{"t":384,"v":0.295},{"t":396,"v":0.285},{"t":408,"v":0.28},{"t":420,"v":0.278},{"t":432,"v":0.278},{"t":444,"v":0.282},{"t":456,"v":0.29},{"t":468,"v":0.3},{"t":480,"v":0.315},{"t":492,"v":0.33},{"t":504,"v":0.345},{"t":516,"v":0.36},{"t":528,"v":0.38},{"t":540,"v":0.4},{"t":552,"v":0.42},{"t":564,"v":0.44},{"t":576,"v":0.46},{"t":588,"v":0.475},{"t":600,"v":0.485},{"t":612,"v":0.485},{"t":624,"v":0.475},{"t":636,"v":0.455},{"t":648,"v":0.43},{"t":660,"v":0.4},{"t":672,"v":0.36},{"t":684,"v":0.32},{"t":696,"v":0.28},{"t":708,"v":0.24},{"t":720,"v":0.2},{"t":732,"v":0.165},{"t":744,"v":0.14},{"t":756,"v":0.12},{"t":768,"v":0.1},{"t":780,"v":0.088},{"t":790,"v":0.08},{"t":800,"v":0.075}],
"D6": [{"t":150,"v":0.06},{"t":160,"v":0.052},{"t":170,"v":0.058},{"t":180,"v":0.05},{"t":190,"v":0.057},{"t":200,"v":0.06},{"t":210,"v":0.055},{"t":220,"v":0.065},{"t":228,"v":0.075},{"t":236,"v":0.105},{"t":244,"v":0.16},{"t":252,"v":0.23},{"t":260,"v":0.31},{"t":268,"v":0.38},{"t":276,"v":0.43},{"t":284,"v":0.46},{"t":292,"v":0.465},{"t":300,"v":0.46},{"t":308,"v":0.445},{"t":316,"v":0.42},{"t":324,"v":0.395},{"t":332,"v":0.375},{"t":340,"v":0.355},{"t":350,"v":0.335},{"t":360,"v":0.315},{"t":372,"v":0.3},{"t":384,"v":0.29},{"t":396,"v":0.282},{"t":408,"v":0.276},{"t":420,"v":0.275},{"t":432,"v":0.277},{"t":444,"v":0.28},{"t":456,"v":0.288},{"t":468,"v":0.298},{"t":480,"v":0.31},{"t":492,"v":0.325},{"t":504,"v":0.34},{"t":516,"v":0.358},{"t":528,"v":0.378},{"t":540,"v":0.398},{"t":552,"v":0.418},{"t":564,"v":0.438},{"t":576,"v":0.455},{"t":588,"v":0.47},{"t":600,"v":0.48},{"t":612,"v":0.48},{"t":624,"v":0.47},{"t":636,"v":0.45},{"t":648,"v":0.425},{"t":660,"v":0.395},{"t":672,"v":0.355},{"t":684,"v":0.315},{"t":696,"v":0.275},{"t":708,"v":0.235},{"t":720,"v":0.195},{"t":732,"v":0.16},{"t":744,"v":0.135},{"t":756,"v":0.115},{"t":768,"v":0.095},{"t":780,"v":0.085},{"t":790,"v":0.078},{"t":800,"v":0.072}],
"D40": [{"t":150,"v":0.05},{"t":160,"v":0.058},{"t":170,"v":0.054},{"t":180,"v":0.06},{"t":190,"v":0.052},{"t":200,"v":0.058},{"t":210,"v":0.055},{"t":220,"v":0.06},{"t":228,"v":0.072},{"t":236,"v":0.1},{"t":244,"v":0.155},{"t":252,"v":0.225},{"t":260,"v":0.305},{"t":268,"v":0.375},{"t":276,"v":0.425},{"t":284,"v":0.455},{"t":292,"v":0.465},{"t":300,"v":0.46},{"t":308,"v":0.44},{"t":316,"v":0.415},{"t":324,"v":0.39},{"t":332,"v":0.37},{"t":340,"v":0.35},{"t":350,"v":0.33},{"t":360,"v":0.31},{"t":372,"v":0.295},{"t":384,"v":0.285},{"t":396,"v":0.278},{"t":408,"v":0.272},{"t":420,"v":0.27},{"t":432,"v":0.272},{"t":444,"v":0.276},{"t":456,"v":0.284},{"t":468,"v":0.294},{"t":480,"v":0.306},{"t":492,"v":0.32},{"t":504,"v":0.336},{"t":516,"v":0.354},{"t":528,"v":0.374},{"t":540,"v":0.394},{"t":552,"v":0.414},{"t":564,"v":0.434},{"t":576,"v":0.452},{"t":588,"v":0.468},{"t":600,"v":0.478},{"t":612,"v":0.48},{"t":624,"v":0.472},{"t":636,"v":0.452},{"t":648,"v":0.428},{"t":660,"v":0.398},{"t":672,"v":0.36},{"t":684,"v":0.32},{"t":696,"v":0.28},{"t":708,"v":0.24},{"t":720,"v":0.2},{"t":732,"v":0.165},{"t":744,"v":0.138},{"t":756,"v":0.118},{"t":768,"v":0.1},{"t":780,"v":0.088},{"t":790,"v":0.08},{"t":800,"v":0.074}],
"H0": [{"t":150,"v":0.055},{"t":160,"v":0.05},{"t":170,"v":0.057},{"t":180,"v":0.052},{"t":190,"v":0.055},{"t":200,"v":0.05},{"t":210,"v":0.053},{"t":220,"v":0.05},{"t":230,"v":0.048},{"t":240,"v":0.05},{"t":250,"v":0.05},{"t":258,"v":0.065},{"t":266,"v":0.11},{"t":274,"v":0.2},{"t":282,"v":0.29},{"t":290,"v":0.36},{"t":298,"v":0.41},{"t":306,"v":0.435},{"t":314,"v":0.44},{"t":322,"v":0.41},{"t":330,"v":0.36},{"t":340,"v":0.31},{"t":350,"v":0.28},{"t":360,"v":0.26},{"t":370,"v":0.248},{"t":380,"v":0.242},{"t":392,"v":0.24},{"t":405,"v":0.245},{"t":418,"v":0.255},{"t":432,"v":0.27},{"t":446,"v":0.29},{"t":460,"v":0.31},{"t":475,"v":0.33},{"t":490,"v":0.35},{"t":505,"v":0.37},{"t":520,"v":0.385},{"t":535,"v":0.395},{"t":550,"v":0.405},{"t":565,"v":0.41},{"t":580,"v":0.415},{"t":595,"v":0.415},{"t":610,"v":0.41},{"t":625,"v":0.405},{"t":640,"v":0.395},{"t":655,"v":0.38},{"t":670,"v":0.36},{"t":685,"v":0.33},{"t":700,"v":0.295},{"t":715,"v":0.25},{"t":730,"v":0.2},{"t":745,"v":0.155},{"t":760,"v":0.115},{"t":775,"v":0.085},{"t":790,"v":0.065},{"t":800,"v":0.06}],
"H1": [{"t":150,"v":0.055},{"t":160,"v":0.058},{"t":170,"v":0.052},{"t":180,"v":0.056},{"t":190,"v":0.054},{"t":200,"v":0.057},{"t":210,"v":0.053},{"t":220,"v":0.056},{"t":228,"v":0.06},{"t":236,"v":0.09},{"t":244,"v":0.15},{"t":252,"v":0.23},{"t":260,"v":0.31},{"t":268,"v":0.38},{"t":276,"v":0.43},{"t":284,"v":0.46},{"t":292,"v":0.48},{"t":300,"v":0.48},{"t":308,"v":0.46},{"t":316,"v":0.43},{"t":324,"v":0.4},{"t":332,"v":0.37},{"t":342,"v":0.345},{"t":352,"v":0.33},{"t":362,"v":0.318},{"t":372,"v":0.31},{"t":382,"v":0.31},{"t":394,"v":0.312},{"t":406,"v":0.318},{"t":418,"v":0.33},{"t":432,"v":0.345},{"t":446,"v":0.36},{"t":460,"v":0.38},{"t":475,"v":0.4},{"t":490,"v":0.42},{"t":505,"v":0.44},{"t":520,"v":0.46},{"t":535,"v":0.48},{"t":550,"v":0.495},{"t":565,"v":0.505},{"t":580,"v":0.515},{"t":595,"v":0.52},{"t":610,"v":0.52},{"t":625,"v":0.51},{"t":640,"v":0.49},{"t":655,"v":0.465},{"t":670,"v":0.43},{"t":685,"v":0.385},{"t":700,"v":0.33},{"t":715,"v":0.27},{"t":730,"v":0.21},{"t":745,"v":0.155},{"t":760,"v":0.115},{"t":775,"v":0.085},{"t":790,"v":0.065},{"t":800,"v":0.06}],
"H6": [{"t":150,"v":0.055},{"t":160,"v":0.052},{"t":170,"v":0.057},{"t":180,"v":0.053},{"t":190,"v":0.056},{"t":200,"v":0.055},{"t":206,"v":0.065},{"t":212,"v":0.1},{"t":218,"v":0.19},{"t":224,"v":0.33},{"t":230,"v":0.48},{"t":236,"v":0.61},{"t":242,"v":0.71},{"t":247,"v":0.77},{"t":251,"v":0.8},{"t":255,"v":0.79},{"t":260,"v":0.74},{"t":266,"v":0.66},{"t":272,"v":0.59},{"t":279,"v":0.53},{"t":286,"v":0.48},{"t":294,"v":0.44},{"t":302,"v":0.41},{"t":310,"v":0.38},{"t":320,"v":0.355},{"t":330,"v":0.335},{"t":340,"v":0.32},{"t":350,"v":0.305},{"t":360,"v":0.295},{"t":370,"v":0.288},{"t":380,"v":0.283},{"t":392,"v":0.283},{"t":404,"v":0.29},{"t":416,"v":0.3},{"t":428,"v":0.315},{"t":440,"v":0.335},{"t":452,"v":0.36},{"t":464,"v":0.39},{"t":476,"v":0.42},{"t":488,"v":0.455},{"t":500,"v":0.49},{"t":512,"v":0.53},{"t":524,"v":0.57},{"t":536,"v":0.61},{"t":548,"v":0.645},{"t":560,"v":0.675},{"t":572,"v":0.7},{"t":584,"v":0.715},{"t":596,"v":0.72},{"t":608,"v":0.715},{"t":620,"v":0.7},{"t":632,"v":0.67},{"t":644,"v":0.625},{"t":656,"v":0.57},{"t":668,"v":0.5},{"t":680,"v":0.43},{"t":692,"v":0.36},{"t":704,"v":0.29},{"t":716,"v":0.23},{"t":728,"v":0.18},{"t":740,"v":0.14},{"t":752,"v":0.11},{"t":765,"v":0.088},{"t":780,"v":0.072},{"t":800,"v":0.062}]
},
"resolve": {"scale": {"x": "independent", "y": "independent", "color": "independent"}, "legend": {"color": "independent"}},
"vconcat": [
{
"title": {"text": "Temperature (K)", "orient": "bottom", "anchor": "middle", "fontSize": 17, "fontWeight": "normal", "color": "#111", "offset": 8},
"spacing": 0,
"resolve": {"scale": {"x": "independent", "y": "independent", "color": "independent"}, "legend": {"color": "independent"}},
"vconcat": [
{"hconcat": [
 {"width": 275, "height": 187,
  "title": {"text": "L: Clean TiO₂(110)", "fontSize": 17, "fontWeight": "normal", "color": "#222", "offset": 9, "anchor": "middle"},
  "encoding": {"x": {"field": "t", "type": "quantitative", "scale": {"domain": [150, 800], "nice": false, "zero": false}, "axis": null}, "y": {"field": "v", "type": "quantitative", "scale": {"domain": [0, 1], "nice": false}, "axis": null}},
  "layer": [
   {"data": {"name": "A0"}, "mark": "line", "encoding": {"color": {"datum": "0", "type": "nominal", "scale": {"domain": ["0", "6", "40"], "range": ["#e62228", "#22982e", "#1f2bd6"]}, "legend": {"title": "Illumination (min)"}}}},
   {"data": {"name": "A6"}, "mark": "line", "encoding": {"color": {"datum": "6", "type": "nominal"}}},
   {"data": {"name": "A40"}, "mark": "line", "encoding": {"color": {"datum": "40", "type": "nominal"}}},
   {"data": {"values": [{"t": 156, "v": 0.935, "lab": "(A)"}]}, "mark": {"type": "text", "align": "left", "fontSize": 15, "color": "#111"}, "encoding": {"text": {"field": "lab"}}},
   {"data": {"values": [{"t": 450, "v": 0.49, "lab": "m/z=31"}]}, "mark": {"type": "text", "align": "center", "fontSize": 15, "color": "#1c2470"}, "encoding": {"text": {"field": "lab"}}},
   {"data": {"values": [{"t": 789, "v": 0.12, "lab": "x1.0"}]}, "mark": {"type": "text", "align": "right", "fontSize": 14, "color": "#1c2470"}, "encoding": {"text": {"field": "lab"}}}
  ]},
 {"width": 275, "height": 187,
  "title": {"text": "R: Pt/TiO₂(110)", "fontSize": 17, "fontWeight": "normal", "color": "#222", "offset": 9, "anchor": "middle", "dx": 12},
  "encoding": {"x": {"field": "t", "type": "quantitative", "scale": {"domain": [150, 800], "nice": false, "zero": false}, "axis": null}, "y": {"field": "v", "type": "quantitative", "scale": {"domain": [0, 1], "nice": false}, "axis": null}},
  "layer": [
   {"data": {"name": "E0"}, "mark": "line", "encoding": {"color": {"datum": "0", "type": "nominal", "scale": {"domain": ["0", "1", "6"], "range": ["#e62228", "#22982e", "#1f2bd6"]}, "legend": {"title": "Illumination (min)"}}}},
   {"data": {"name": "E1"}, "mark": "line", "encoding": {"color": {"datum": "1", "type": "nominal"}}},
   {"data": {"name": "E6"}, "mark": "line", "encoding": {"color": {"datum": "6", "type": "nominal"}}},
   {"data": {"values": [{"t": 156, "v": 0.935, "lab": "(E)"}]}, "mark": {"type": "text", "align": "left", "fontSize": 15, "color": "#111"}, "encoding": {"text": {"field": "lab"}}},
   {"data": {"values": [{"t": 494, "v": 0.51, "lab": "m/z=31"}]}, "mark": {"type": "text", "align": "center", "fontSize": 15, "color": "#1c2470"}, "encoding": {"text": {"field": "lab"}}},
   {"data": {"values": [{"t": 792, "v": 0.107, "lab": "x1.0"}]}, "mark": {"type": "text", "align": "right", "fontSize": 14, "color": "#1c2470"}, "encoding": {"text": {"field": "lab"}}}
  ]}
], "spacing": 0, "bounds": "flush", "resolve": {"scale": {"x": "independent", "y": "independent", "color": "independent"}, "legend": {"color": "independent"}}},
{"hconcat": [
 {"width": 275, "height": 187,
  "encoding": {"x": {"field": "t", "type": "quantitative", "scale": {"domain": [150, 800], "nice": false, "zero": false}, "axis": null}, "y": {"field": "v", "type": "quantitative", "scale": {"domain": [0, 1], "nice": false}, "axis": null}},
  "layer": [
   {"data": {"name": "B0"}, "mark": "line", "encoding": {"color": {"datum": "0", "type": "nominal", "scale": {"domain": ["0", "6", "40"], "range": ["#e62228", "#22982e", "#1f2bd6"]}, "legend": {"title": "Illumination (min)"}}}},
   {"data": {"name": "B6"}, "mark": "line", "encoding": {"color": {"datum": "6", "type": "nominal"}}},
   {"data": {"name": "B40"}, "mark": "line", "encoding": {"color": {"datum": "40", "type": "nominal"}}},
   {"data": {"values": [{"t": 156, "v": 0.935, "lab": "(B)"}]}, "mark": {"type": "text", "align": "left", "fontSize": 15, "color": "#111"}, "encoding": {"text": {"field": "lab"}}},
   {"data": {"values": [{"t": 437, "v": 0.49, "lab": "m/z=30"}]}, "mark": {"type": "text", "align": "center", "fontSize": 15, "color": "#1c2470"}, "encoding": {"text": {"field": "lab"}}},
   {"data": {"values": [{"t": 789, "v": 0.15, "lab": "x1.0"}]}, "mark": {"type": "text", "align": "right", "fontSize": 14, "color": "#1c2470"}, "encoding": {"text": {"field": "lab"}}}
  ]},
 {"width": 275, "height": 187,
  "encoding": {"x": {"field": "t", "type": "quantitative", "scale": {"domain": [150, 800], "nice": false, "zero": false}, "axis": null}, "y": {"field": "v", "type": "quantitative", "scale": {"domain": [0, 1], "nice": false}, "axis": null}},
  "layer": [
   {"data": {"name": "F0"}, "mark": "line", "encoding": {"color": {"datum": "0", "type": "nominal", "scale": {"domain": ["0", "1", "6"], "range": ["#e62228", "#22982e", "#1f2bd6"]}, "legend": {"title": "Illumination (min)"}}}},
   {"data": {"name": "F1"}, "mark": "line", "encoding": {"color": {"datum": "1", "type": "nominal"}}},
   {"data": {"name": "F6"}, "mark": "line", "encoding": {"color": {"datum": "6", "type": "nominal"}}},
   {"data": {"values": [{"t": 156, "v": 0.935, "lab": "(F)"}]}, "mark": {"type": "text", "align": "left", "fontSize": 15, "color": "#111"}, "encoding": {"text": {"field": "lab"}}},
   {"data": {"values": [{"t": 451, "v": 0.49, "lab": "m/z=30"}]}, "mark": {"type": "text", "align": "center", "fontSize": 15, "color": "#1c2470"}, "encoding": {"text": {"field": "lab"}}},
   {"data": {"values": [{"t": 792, "v": 0.14, "lab": "x1.0"}]}, "mark": {"type": "text", "align": "right", "fontSize": 14, "color": "#1c2470"}, "encoding": {"text": {"field": "lab"}}}
  ]}
], "spacing": 0, "bounds": "flush", "resolve": {"scale": {"x": "independent", "y": "independent", "color": "independent"}, "legend": {"color": "independent"}}},
{"hconcat": [
 {"width": 275, "height": 187,
  "encoding": {"x": {"field": "t", "type": "quantitative", "scale": {"domain": [150, 800], "nice": false, "zero": false}, "axis": null}, "y": {"field": "v", "type": "quantitative", "scale": {"domain": [0, 1], "nice": false}, "axis": null}},
  "layer": [
   {"data": {"name": "C0"}, "mark": "line", "encoding": {"color": {"datum": "0", "type": "nominal", "scale": {"domain": ["0", "6", "40"], "range": ["#e62228", "#22982e", "#1f2bd6"]}, "legend": {"title": "Illumination (min)"}}}},
   {"data": {"name": "C6"}, "mark": "line", "encoding": {"color": {"datum": "6", "type": "nominal"}}},
   {"data": {"name": "C40"}, "mark": "line", "encoding": {"color": {"datum": "40", "type": "nominal"}}},
   {"data": {"values": [{"t": 156, "v": 0.935, "lab": "(C)"}]}, "mark": {"type": "text", "align": "left", "fontSize": 15, "color": "#111"}, "encoding": {"text": {"field": "lab"}}},
   {"data": {"values": [{"t": 437, "v": 0.42, "lab": "m/z=18"}]}, "mark": {"type": "text", "align": "center", "fontSize": 15, "color": "#1c2470"}, "encoding": {"text": {"field": "lab"}}},
   {"data": {"values": [{"t": 785, "v": 0.144, "lab": "x1.4"}]}, "mark": {"type": "text", "align": "right", "fontSize": 14, "color": "#1c2470"}, "encoding": {"text": {"field": "lab"}}}
  ]},
 {"width": 275, "height": 187,
  "encoding": {"x": {"field": "t", "type": "quantitative", "scale": {"domain": [150, 800], "nice": false, "zero": false}, "axis": null}, "y": {"field": "v", "type": "quantitative", "scale": {"domain": [0, 1], "nice": false}, "axis": null}},
  "layer": [
   {"data": {"name": "G0"}, "mark": "line", "encoding": {"color": {"datum": "0", "type": "nominal", "scale": {"domain": ["0", "1", "6"], "range": ["#e62228", "#22982e", "#1f2bd6"]}, "legend": {"title": "Illumination (min)"}}}},
   {"data": {"name": "G1"}, "mark": "line", "encoding": {"color": {"datum": "1", "type": "nominal"}}},
   {"data": {"name": "G6"}, "mark": "line", "encoding": {"color": {"datum": "6", "type": "nominal"}}},
   {"data": {"values": [{"t": 156, "v": 0.935, "lab": "(G)"}]}, "mark": {"type": "text", "align": "left", "fontSize": 15, "color": "#111"}, "encoding": {"text": {"field": "lab"}}},
   {"data": {"values": [{"t": 451, "v": 0.42, "lab": "m/z=18"}]}, "mark": {"type": "text", "align": "center", "fontSize": 15, "color": "#1c2470"}, "encoding": {"text": {"field": "lab"}}},
   {"data": {"values": [{"t": 785, "v": 0.144, "lab": "x1.4"}]}, "mark": {"type": "text", "align": "right", "fontSize": 14, "color": "#1c2470"}, "encoding": {"text": {"field": "lab"}}}
  ]}
], "spacing": 0, "bounds": "flush", "resolve": {"scale": {"x": "independent", "y": "independent", "color": "independent"}, "legend": {"color": "independent"}}},
{"hconcat": [
 {"width": 275, "height": 187,
  "encoding": {"x": {"field": "t", "type": "quantitative", "scale": {"domain": [150, 800], "nice": false, "zero": false}, "axis": {"values": [200, 300, 400, 500, 600, 700, 800], "labelExpr": "datum.value % 200 == 0 ? datum.label : ''", "title": null}}, "y": {"field": "v", "type": "quantitative", "scale": {"domain": [0, 1], "nice": false}, "axis": null}},
  "layer": [
   {"data": {"name": "D0"}, "mark": "line", "encoding": {"color": {"datum": "0", "type": "nominal", "scale": {"domain": ["0", "6", "40"], "range": ["#e62228", "#22982e", "#1f2bd6"]}, "legend": {"title": "Illumination (min)"}}}},
   {"data": {"name": "D6"}, "mark": "line", "encoding": {"color": {"datum": "6", "type": "nominal"}}},
   {"data": {"name": "D40"}, "mark": "line", "encoding": {"color": {"datum": "40", "type": "nominal"}}},
   {"data": {"values": [{"t": 156, "v": 0.935, "lab": "(D)"}]}, "mark": {"type": "text", "align": "left", "fontSize": 15, "color": "#111"}, "encoding": {"text": {"field": "lab"}}},
   {"data": {"values": [{"t": 462, "v": 0.378, "lab": "m/z=2"}]}, "mark": {"type": "text", "align": "center", "fontSize": 15, "color": "#1c2470"}, "encoding": {"text": {"field": "lab"}}},
   {"data": {"values": [{"t": 789, "v": 0.11, "lab": "x0.1"}]}, "mark": {"type": "text", "align": "right", "fontSize": 14, "color": "#1c2470"}, "encoding": {"text": {"field": "lab"}}}
  ]},
 {"width": 275, "height": 187,
  "encoding": {"x": {"field": "t", "type": "quantitative", "scale": {"domain": [150, 800], "nice": false, "zero": false}, "axis": {"values": [200, 300, 400, 500, 600, 700, 800], "labelExpr": "datum.value % 200 == 0 ? datum.label : ''", "title": null, "encode": {"labels": {"update": {"dx": {"signal": "datum.value == 200 ? 10 : 0"}}}}}}, "y": {"field": "v", "type": "quantitative", "scale": {"domain": [0, 1], "nice": false}, "axis": null}},
  "layer": [
   {"data": {"name": "H0"}, "mark": "line", "encoding": {"color": {"datum": "0", "type": "nominal", "scale": {"domain": ["0", "1", "6"], "range": ["#e62228", "#22982e", "#1f2bd6"]}, "legend": {"title": "Illumination (min)"}}}},
   {"data": {"name": "H1"}, "mark": "line", "encoding": {"color": {"datum": "1", "type": "nominal"}}},
   {"data": {"name": "H6"}, "mark": "line", "encoding": {"color": {"datum": "6", "type": "nominal"}}},
   {"data": {"values": [{"t": 156, "v": 0.935, "lab": "(H)"}]}, "mark": {"type": "text", "align": "left", "fontSize": 15, "color": "#111"}, "encoding": {"text": {"field": "lab"}}},
   {"data": {"values": [{"t": 348, "v": 0.69, "lab": "m/z=2"}]}, "mark": {"type": "text", "align": "center", "fontSize": 15, "color": "#1c2470"}, "encoding": {"text": {"field": "lab"}}},
   {"data": {"values": [{"t": 789, "v": 0.11, "lab": "x0.1"}]}, "mark": {"type": "text", "align": "right", "fontSize": 14, "color": "#1c2470"}, "encoding": {"text": {"field": "lab"}}}
  ]}
], "spacing": 0, "bounds": "flush", "resolve": {"scale": {"x": "independent", "y": "independent", "color": "independent"}, "legend": {"color": "independent"}}}
]
}
]
}
